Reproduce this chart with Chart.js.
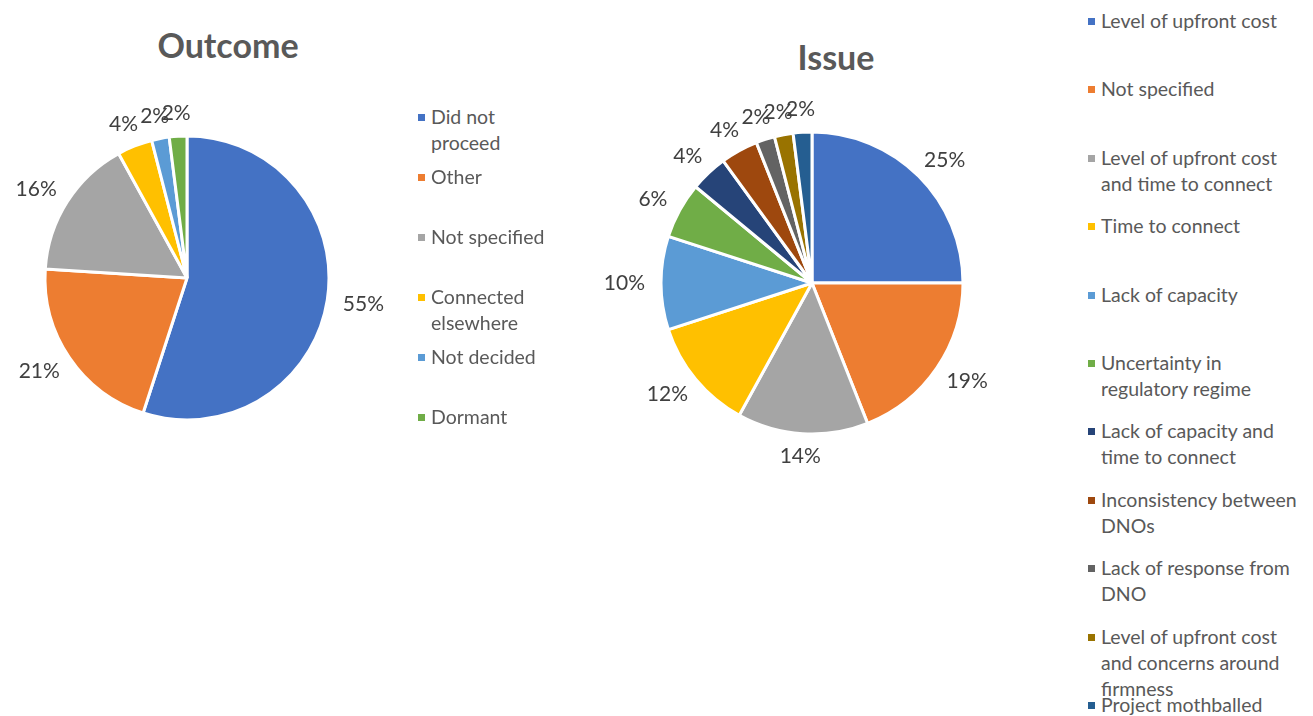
<!DOCTYPE html>
<html>
<head>
<meta charset="utf-8">
<script src="https://cdn.jsdelivr.net/npm/chart.js@4/dist/chart.umd.min.js"></script>
<style>
    body { margin: 0; background: #fff; font-family: Lato, "Noto Sans", sans-serif; }
    #page { position: relative; width: 1313px; height: 716px; overflow: hidden; }
    canvas { position: absolute; }
    .title { position: absolute; color: #595959; font-weight: bold; font-size: 34px; line-height: 40px; text-align: center; }
    .legend { position: absolute; left: 0; top: 0; }
    .legend-item { position: absolute; color: #595959; font-size: 19.5px; line-height: 26px; }
    .legend-item i { position: absolute; left: -13px; top: 10px; width: 7px; height: 7px; }
</style>
</head>
<body>
<div id="page">
    <div class="title" style="left:128px; top:25px; width:200px;">Outcome</div>
    <div class="title" style="left:736px; top:37px; width:200px;">Issue</div>
    <canvas id="outcome" width="420" height="470" style="left:0; top:0;"></canvas>
    <canvas id="issue" width="440" height="480" style="left:600px; top:0;"></canvas>
    <div id="outcome-legend" class="legend"></div>
    <div id="issue-legend" class="legend"></div>
</div>
<script>
    // Outcome
    var outcomeLabels = ['Did not proceed', 'Other', 'Not specified', 'Connected elsewhere', 'Not decided', 'Dormant'];
    var outcomeValues = [55, 21, 16, 4, 2, 2];
    var outcomeColors = ['#4472C4', '#ED7D31', '#A5A5A5', '#FFC000', '#5B9BD5', '#70AD47'];

    // Issue
    var issueLabels = [
        'Level of upfront cost',
        'Not specified',
        'Level of upfront cost and time to connect',
        'Time to connect',
        'Lack of capacity',
        'Uncertainty in regulatory regime',
        'Lack of capacity and time to connect',
        'Inconsistency between DNOs',
        'Lack of response from DNO',
        'Level of upfront cost and concerns around firmness',
        'Project mothballed'
    ];
    var issueValues = [25, 19, 14, 12, 10, 6, 4, 4, 2, 2, 2];
    var issueColors = ['#4472C4', '#ED7D31', '#A5A5A5', '#FFC000', '#5B9BD5', '#70AD47',
        '#264478', '#9E480E', '#636363', '#997300', '#255E91'];

    // draws "xx%" just outside each slice, like excel's outside end labels
    var outsideLabels = {
        id: 'outsideLabels',
        afterDatasetsDraw: function (chart) {
            var ctx = chart.ctx,
                values = chart.data.datasets[0].data,
                total = values.reduce(function (a, b) { return a + b; }, 0),
                gap = 16,
                h = 14;

            ctx.save();
            ctx.font = '21px Lato, "Noto Sans", sans-serif';
            ctx.fillStyle = '#404040';
            ctx.textAlign = 'center';
            ctx.textBaseline = 'middle';

            chart.getDatasetMeta(0).data.forEach(function (arc, i) {
                var p = arc.getProps(['x', 'y', 'startAngle', 'endAngle', 'outerRadius'], true),
                    mid = (p.startAngle + p.endAngle) / 2,
                    dx = Math.cos(mid),
                    dy = Math.sin(mid),
                    text = Math.round(values[i] / total * 100) + '%',
                    w = ctx.measureText(text).width,
                    r = p.outerRadius + gap;

                ctx.fillText(text, p.x + dx * r + dx * w / 2, p.y + dy * r + dy * h / 2);
            });
            ctx.restore();
        }
    };

    function pie(id, labels, values, colors, radius, padding) {
        return new Chart(document.getElementById(id), {
            type: 'pie',
            data: {
                labels: labels,
                datasets: [{
                    data: values,
                    backgroundColor: colors,
                    borderColor: '#ffffff',
                    borderWidth: 3,
                    hoverOffset: 0
                }]
            },
            options: {
                responsive: false,
                animation: false,
                devicePixelRatio: 1,
                radius: radius,
                layout: { padding: padding },
                plugins: {
                    legend: { display: false },
                    tooltip: { enabled: false }
                }
            },
            plugins: [outsideLabels]
        });
    }

    function legend(id, chart, left, top, step, width) {
        var box = document.getElementById(id),
            ds = chart.data.datasets[0];

        chart.data.labels.forEach(function (label, i) {
            var item = document.createElement('div');
            item.className = 'legend-item';
            item.style.left = left + 'px';
            item.style.top = Math.round(top + i * step) + 'px';
            item.style.width = width + 'px';

            var mark = document.createElement('i');
            mark.style.background = ds.backgroundColor[i];
            item.appendChild(mark);
            item.appendChild(document.createTextNode(label));
            box.appendChild(item);
        });
    }

    var outcomeChart = pie('outcome', outcomeLabels, outcomeValues, outcomeColors, 142,
        { top: 86, right: 46 });
    var issueChart = pie('issue', issueLabels, issueValues, issueColors, 151,
        { top: 86, right: 16 });

    legend('outcome-legend', outcomeChart, 431, 104, 60, 120);
    legend('issue-legend', issueChart, 1101, 8, 68.4, 205);
</script>
</body>
</html>
